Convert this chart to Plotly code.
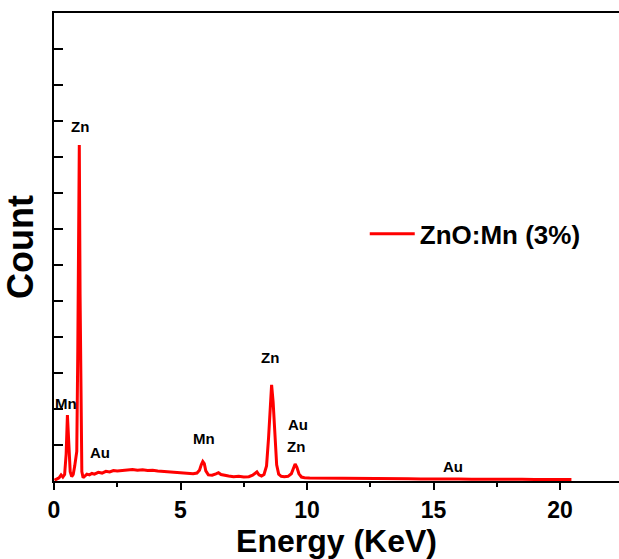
import plotly.graph_objects as go

# EDX spectrum of ZnO:Mn (3%) (count in arbitrary units, 1 tick = 1000)
energy = [0.02, 0.1, 0.2, 0.28, 0.35, 0.42, 0.48, 0.53, 0.58, 0.64, 0.7, 0.76, 0.82, 0.87, 0.9, 0.94,
          0.97, 1.0, 1.03, 1.06, 1.1, 1.15, 1.22, 1.3, 1.4, 1.5, 1.6, 1.75, 1.9, 2.05, 2.2, 2.35,
          2.5, 2.7, 2.9, 3.1, 3.3, 3.5, 3.7, 3.9, 4.1, 4.3, 4.5, 4.7, 4.9, 5.1, 5.3, 5.5, 5.65,
          5.75, 5.82, 5.88, 5.94, 6.0, 6.1, 6.25, 6.4, 6.5, 6.6, 6.75, 6.9, 7.1, 7.3, 7.5, 7.7,
          7.85, 7.95, 8.02, 8.1, 8.2, 8.3, 8.4, 8.48, 8.54, 8.6, 8.66, 8.72, 8.8, 8.88, 8.98,
          9.1, 9.25, 9.38, 9.46, 9.53, 9.6, 9.68, 9.78, 9.9, 10.1, 10.4, 10.8, 11.2, 11.6, 12.0,
          12.5, 13.0, 13.5, 14.0, 14.5, 15.0, 15.5, 16.0, 16.5, 17.0, 17.5, 18.0, 18.5, 19.0,
          19.5, 20.0, 20.45]
count = [20, 60, 90, 170, 110, 180, 750, 1830, 900, 260, 120, 180, 420, 780, 820, 3600,
         7200, 9330, 5200, 1600, 260, 90, 130, 190, 170, 210, 190, 240, 220, 270, 250, 290,
         280, 300, 310, 320, 300, 310, 290, 300, 280, 270, 260, 250, 240, 230, 210, 200, 220,
         300, 450, 540, 480, 280, 170, 160, 200, 230, 180, 150, 140, 120, 130, 110, 120,
         160, 230, 250, 170, 140, 180, 420, 1200, 2100, 2670, 2200, 1300, 450, 190, 130,
         120, 130, 200, 360, 470, 380, 200, 110, 90, 80, 80, 70, 75, 70, 65,
         70, 60, 65, 60, 55, 60, 55, 55, 50, 55, 50, 45, 50, 45,
         45, 40, 40]

# peak labels
label_text = ["Zn", "Mn", "Au", "Mn", "Zn", "Au", "Zn", "Au"]
label_x = [1.03, 0.47, 1.82, 5.93, 8.54, 9.64, 9.56, 15.77]
label_y = [9860, 2140, 780, 1170, 3420, 1560, 970, 390]

x_ticks = [0, 5, 10, 15, 20]
x_range = [0, 22.33]
y_range = [0, 13000]

FONT = "Arial, 'Liberation Sans', Helvetica, sans-serif"

fig = go.Figure()
fig.add_trace(go.Scatter(
    x=energy, y=count, mode="lines", name="ZnO:Mn (3%)",
    line=dict(color="#ff0000", width=3),
))

for t, x, y in zip(label_text, label_x, label_y):
    fig.add_annotation(x=x, y=y, text=t, showarrow=False,
                       font=dict(family=FONT, size=15, color="black", weight="bold"))

fig.update_layout(
    width=619, height=559,
    margin=dict(l=54, r=0, t=13, b=78),
    paper_bgcolor="white", plot_bgcolor="white",
    font=dict(family=FONT, color="black"),
    showlegend=True,
    legend=dict(x=0.55, y=0.528, xanchor="left", yanchor="middle",
                bgcolor="rgba(0,0,0,0)", itemwidth=45,
                font=dict(family=FONT, size=26, color="black", weight="bold")),
)

fig.update_xaxes(
    range=x_range, tickvals=x_ticks, ticktext=[str(v) for v in x_ticks],
    automargin=False,
    showgrid=False, zeroline=False,
    showline=True, linecolor="black", linewidth=2, mirror=True,
    ticks="outside", ticklen=7, tickwidth=2, tickcolor="black",
    tickfont=dict(family=FONT, size=23, color="black", weight="bold"),
    minor=dict(dtick=2.5, tick0=0, ticks="outside", ticklen=4, tickwidth=2, tickcolor="black"),
    title=dict(text="Energy (KeV)", standoff=0,
               font=dict(family=FONT, size=32, color="black", weight="bold")),
)
fig.update_yaxes(
    range=y_range, dtick=1000, tick0=0,
    automargin=False,
    showgrid=False, zeroline=False, showticklabels=False,
    showline=True, linecolor="black", linewidth=2, mirror=False,
    ticks="inside", ticklen=9, tickwidth=2, tickcolor="black",
    title=dict(text="Count", standoff=10,
               font=dict(family=FONT, size=36, color="black", weight="bold")),
)

fig.write_html(
    "out.html",
    config={"displayModeBar": False},
    post_script="document.body.style.margin='0';document.body.style.overflow='hidden';",
)
